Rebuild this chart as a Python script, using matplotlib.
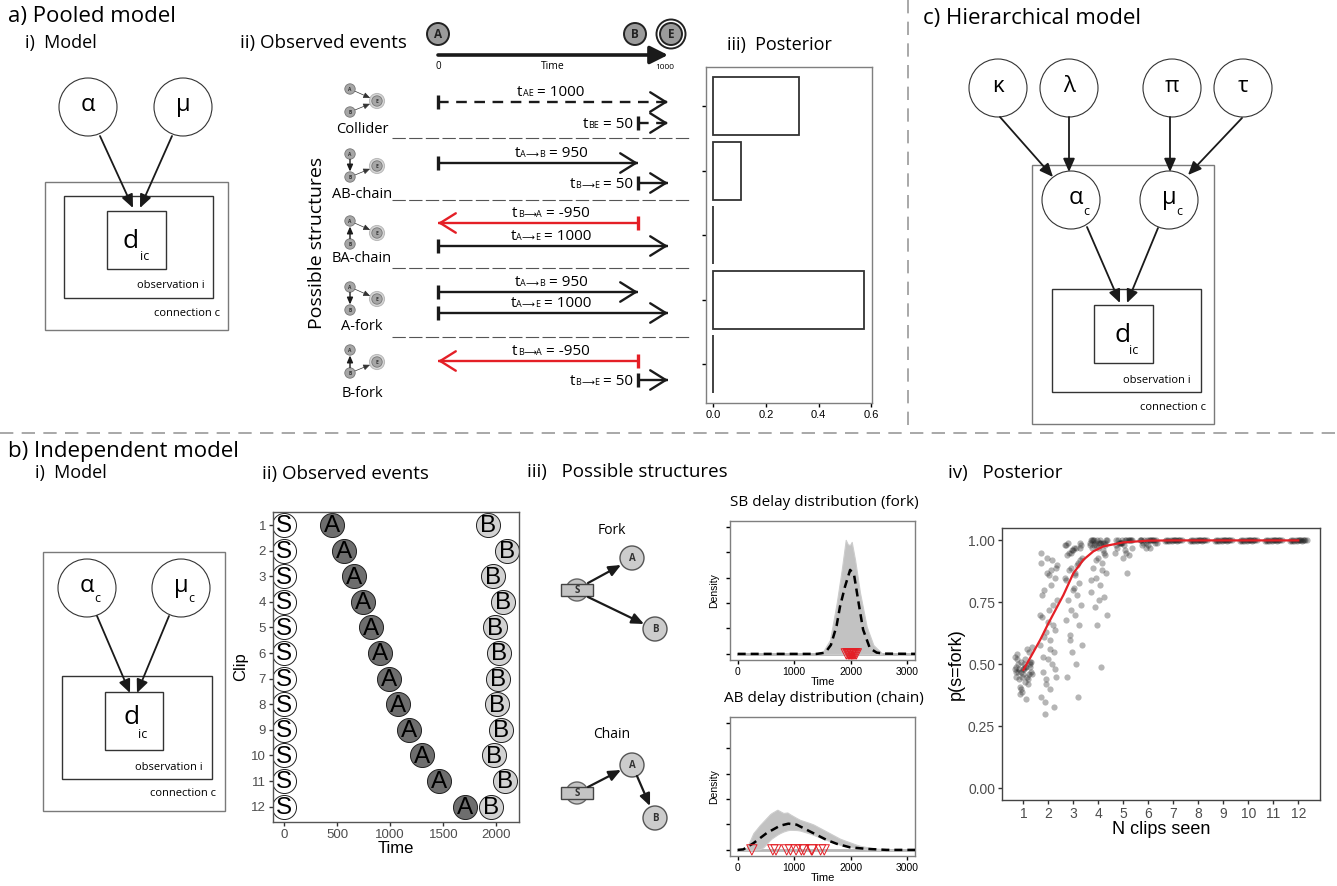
#!/usr/bin/env python3
import numpy as np
import matplotlib
matplotlib.use('Agg')
import matplotlib.pyplot as plt
from matplotlib.patches import Circle, Rectangle

W, H = 1337, 886
SANS = ['Open Sans', 'DejaVu Sans']
ARIAL = ['Liberation Sans', 'DejaVu Sans']
RED = '#e41f26'
INK = '#1a1a1a'

# ---------------- a) pooled model ----------------
event_times = {'A': 0, 'B': 950, 'E': 1000}
structures = ['Collider', 'AB-chain', 'BA-chain', 'A-fork', 'B-fork']
structure_links = [
    [('A', 'E'), ('B', 'E')],
    [('A', 'B'), ('B', 'E')],
    [('B', 'A'), ('A', 'E')],
    [('A', 'B'), ('A', 'E')],
    [('B', 'A'), ('B', 'E')],
]
pooled_posterior = [0.325, 0.105, 0.0, 0.572, 0.0]

# ---------------- b) independent model ----------------
clips = [1, 2, 3, 4, 5, 6, 7, 8, 9, 10, 11, 12]
s_times = [0, 0, 0, 0, 0, 0, 0, 0, 0, 0, 0, 0]
a_times = [455, 568, 659, 741, 819, 901, 986, 1074, 1177, 1300, 1457, 1702]
b_times = [1922, 2100, 1965, 2060, 1991, 2028, 2019, 2009, 2044, 1978, 2079, 1953]

# delay densities (density in units of 1e-3 per ms)
fork_mean_t = [0, 1400, 1550, 1650, 1750, 1810, 1900, 1990, 2060, 2140, 2220, 2340, 2460, 2600, 3200]
fork_mean_d = [0, 0, 0.05, 0.35, 1.1, 1.85, 2.65, 3.3, 3.1, 2.0, 0.95, 0.22, 0.05, 0.01, 0]
fork_band_t = [1487, 1634, 1752, 1841, 1912, 1950, 1988, 2018, 2077, 2165, 2283, 2401, 2549]
fork_band_hi = [0, 0.55, 2.0, 3.3, 4.48, 4.3, 4.28, 4.4, 3.7, 2.4, 1.07, 0.35, 0.03]

chain_mean_t = [0, 100, 277, 513, 749, 897, 1044, 1221, 1398, 1575, 1752, 1988, 2283, 2637, 3200]
chain_mean_d = [0, 0.02, 0.26, 0.66, 0.95, 1.03, 0.99, 0.79, 0.59, 0.39, 0.24, 0.1, 0.04, 0.0, 0]
chain_band_t = [0, 160, 277, 395, 454, 572, 602, 702, 749, 808, 879, 926, 1044, 1103, 1280,
                1339, 1575, 1811, 1870, 2106, 2165, 2401, 2460, 2755]
chain_band_hi = [0, 0.07, 0.66, 0.98, 1.12, 1.4, 1.45, 1.58, 1.52, 1.45, 1.47, 1.4, 1.25, 1.18, 1.05,
                 1.0, 0.72, 0.44, 0.39, 0.2, 0.16, 0.06, 0.05, 0]
chain_band_lo = [0, 0, 0, 0.03, 0.1, 0.39, 0.45, 0.6, 0.66, 0.72, 0.77, 0.79, 0.78, 0.76, 0.64,
                 0.59, 0.39, 0.2, 0.16, 0.07, 0.05, 0, 0, 0]

# posterior p(s=fork) per simulated learner, by number of clips seen
jitter = [-0.31, 0.12, -0.05, 0.27, -0.18, 0.33, 0.02, -0.26, 0.19, -0.11, 0.08, -0.34, 0.24, -0.02,
          0.15, -0.22, 0.30, -0.08, 0.05, -0.29, 0.21, -0.14, 0.34, -0.04, 0.10, -0.24, 0.17, -0.33,
          0.00, 0.28, -0.16, 0.07, -0.20, 0.25, -0.09, 0.13, -0.28, 0.03, 0.31, -0.12]
p_fork_1 = [0.47, 0.49, 0.45, 0.51, 0.48, 0.46, 0.50, 0.52, 0.44, 0.47, 0.49, 0.53, 0.46, 0.48,
            0.45, 0.50, 0.47, 0.51, 0.43, 0.49, 0.55, 0.41, 0.57, 0.39, 0.36, 0.54, 0.42, 0.48,
            0.46, 0.50, 0.44, 0.52, 0.47, 0.49, 0.40, 0.56, 0.45, 0.48, 0.51, 0.38]
p_fork_2 = [0.91, 0.88, 0.93, 0.85, 0.80, 0.76, 0.72, 0.69, 0.66, 0.63, 0.60, 0.58, 0.55, 0.52,
            0.50, 0.47, 0.45, 0.42, 0.40, 0.37, 0.33, 0.30, 0.90, 0.87, 0.82, 0.78, 0.74, 0.70,
            0.67, 0.64, 0.61, 0.56, 0.53, 0.48, 0.44, 0.92, 0.95, 0.86, 0.89, 0.35]
p_fork_3 = [0.98, 0.97, 0.96, 0.99, 0.95, 0.93, 0.97, 0.94, 0.91, 0.89, 0.87, 0.85, 0.83, 0.80,
            0.78, 0.76, 0.74, 0.72, 0.70, 0.68, 0.66, 0.62, 0.58, 0.55, 0.50, 0.45, 0.37, 0.98,
            0.96, 0.92, 0.88, 0.86, 0.99, 0.97, 0.95, 0.90, 0.84, 0.81, 0.98, 0.60]
p_fork_4 = [1.0, 0.99, 1.0, 0.99, 0.98, 1.0, 0.99, 0.97, 0.96, 0.98, 1.0, 0.99, 0.95, 0.93, 0.91,
            0.89, 0.87, 0.85, 0.82, 0.79, 0.77, 0.73, 0.70, 0.66, 0.49, 1.0, 0.99, 0.98, 0.97,
            0.94, 1.0, 0.99, 1.0, 0.98, 0.92, 0.88, 0.84, 0.76, 1.0, 0.99]
p_fork_5 = [1.0, 1.0, 0.99, 1.0, 0.99, 1.0, 0.98, 0.97, 1.0, 0.99, 0.96, 0.95, 0.94, 0.93, 0.87,
            1.0, 1.0, 0.99, 1.0, 0.98, 1.0, 0.99, 0.97, 1.0, 0.95]
p_fork_6 = [1.0, 1.0, 1.0, 0.99, 1.0, 0.99, 1.0, 0.98, 1.0, 0.99, 0.97, 1.0, 1.0, 0.98, 1.0,
            0.99, 1.0, 0.97, 1.0, 1.0]
p_fork_late = [1.0, 1.0, 0.999, 1.0, 0.998, 1.0, 1.0, 0.999, 1.0, 1.0, 1.0, 0.997, 1.0, 1.0,
               0.999, 1.0]
fit_clips = [1, 1.67, 2, 2.6, 3, 3.4, 3.8, 4.2, 5, 6, 7, 8, 9, 10, 11, 12]
fit_p_fork = [0.478, 0.599, 0.666, 0.78, 0.868, 0.922, 0.956, 0.976, 0.992, 0.999, 1, 1, 1, 1, 1, 1]


fig = plt.figure(figsize=(W / 100, H / 100), dpi=100)
ov = fig.add_axes([0, 0, 1, 1])
ov.set_xlim(0, W)
ov.set_ylim(H, 0)
ov.axis('off')
renderer = fig.canvas.get_renderer()


def px_axes(left, top, right, bottom):
    return fig.add_axes([left / W, 1 - bottom / H, (right - left) / W, (bottom - top) / H])


def txt(x, y, s, size, ha='left', va='center', family=SANS, **kw):
    return ov.text(x, y, s, fontsize=size, ha=ha, va=va, family=family, **kw)


def box(x0, y0, x1, y1, ec='#333333', lw=1.0):
    ov.add_patch(Rectangle((x0, y0), x1 - x0, y1 - y0, fc='none', ec=ec, lw=lw))


def link(x0, y0, x1, y1, lw=1.3, scale=10, color=INK):
    ov.annotate('', xy=(x1, y1), xytext=(x0, y0),
                arrowprops=dict(arrowstyle='-|>,head_length=0.8,head_width=0.35', color=color,
                                lw=lw, shrinkA=0, shrinkB=0, mutation_scale=scale))


def param(x, y, sym, sub=None, r=29, size=17, dx=0, sdx=10, sdy=10):
    ov.add_patch(Circle((x, y), r, fc='white', ec='#333333', lw=0.8))
    txt(x + dx, y - 2, sym, size, ha='center')
    if sub:
        txt(x + dx + sdx, y + sdy, sub, 9, ha='center')


def data_box(x0, y0, x1, y1, dx, dy, sx, sy):
    box(x0, y0, x1, y1, ec='#333333')
    txt(dx, dy, 'd', 19, ha='center')
    txt(sx, sy, 'ic', 9, ha='center')


def plates(outer, inner, obs_xy, conn_xy):
    box(*outer, ec='#7a7a7a', lw=1.0)
    box(*inner, ec='#333333', lw=1.0)
    txt(obs_xy[0], obs_xy[1], 'observation i', 8, ha='right')
    txt(conn_xy[0], conn_xy[1], 'connection c', 8, ha='right')


# ---- panel headings and separators ----
txt(8, 16, 'a) Pooled model', 16)
txt(25, 43, 'i)  Model', 13)
txt(240, 43, 'ii) Observed events', 13.5)
txt(727, 45, 'iii)  Posterior', 13)
txt(923, 18, 'c) Hierarchical model', 16)
txt(8, 451, 'b) Independent model', 16)
txt(35, 473, 'i)  Model', 13)
txt(262, 474, 'ii) Observed events', 13.5)
txt(527, 472, 'iii)   Possible structures', 13.5)
txt(948, 473, 'iv)   Posterior', 13.5)

ov.plot([907.5, 907.5], [0, 433], color='#9a9a9a', lw=1.2, ls=(0, (8, 5)))
ov.plot([0, W], [433, 433], color='#9a9a9a', lw=1.2, ls=(0, (8, 5)))

# ---- a-i pooled graphical model ----
plates((45, 182, 228, 330), (64, 196, 213, 298), (205, 286), (220, 313))
param(88, 107, 'α')
param(183, 107, 'μ')
data_box(107, 211, 166, 269, 131, 241, 145, 257)
link(100, 136, 133, 208)
link(172, 136, 140, 208)

# ---- b-i independent graphical model ----
plates((43, 552, 225, 811), (62, 676, 212, 779), (203, 768), (216, 794))
param(87, 588, 'α', 'c', dx=0, sdx=10, sdy=11)
param(181, 588, 'μ', 'c', dx=0, sdx=10, sdy=11)
data_box(105, 692, 163, 750, 132, 718, 143, 735)
link(97, 616, 130, 693)
link(169, 616, 137, 693)

# ---- c hierarchical graphical model ----
plates((1032, 165, 1214, 424), (1052, 289, 1201, 392), (1191, 380), (1206, 407))
for hx, sym in zip([998, 1069, 1172, 1243], ['κ', 'λ', 'π', 'τ']):
    param(hx, 88, sym, size=16)
param(1071, 200, 'α', 'c', dx=5, sdx=10, sdy=11)
param(1169, 200, 'μ', 'c', dx=0, sdx=10, sdy=11)
data_box(1094, 305, 1153, 363, 1123, 336, 1134, 350)
link(1000, 117, 1053, 177)
link(1069, 117, 1069, 172)
link(1170, 117, 1170, 172)
link(1242, 118, 1188, 175)
link(1087, 227, 1120, 303)
link(1158, 228, 1127, 303)

# ---- a-ii observed events and candidate structures ----
# schematic time axis: the last 50 ms are stretched so short delays stay readable
TIME_KNOTS = [0, 950, 1000]
TIME_PIX = [438, 638, 668]


def time_x(t):
    return float(np.interp(t, TIME_KNOTS, TIME_PIX))


def event_node(x, y, label, r, size, ring=False, lw=1.4):
    if ring:
        ov.add_patch(Circle((x, y), r + 3.5, fc='white', ec='#222222', lw=lw))
    ov.add_patch(Circle((x, y), r, fc='#9b9b9b', ec='#222222', lw=lw))
    txt(x, y + 0.5, label, size, ha='center', weight='bold', color='#222222')


t_end = max(event_times.values())
ov.annotate('', xy=(time_x(t_end), 55), xytext=(time_x(0), 55),
            arrowprops=dict(arrowstyle='-|>,head_length=0.9,head_width=0.45', color=INK, lw=2.6,
                            shrinkA=0, shrinkB=0, mutation_scale=12))
for ev, t in event_times.items():
    event_node(time_x(t) + (3 if ev == 'E' else -3 if ev == 'B' else 0), 34, ev, 11, 8.5,
               ring=(ev == 'E'))
txt(time_x(0), 66, '0', 7, ha='center')
txt((time_x(0) + time_x(t_end)) / 2, 66, 'Time', 7.5, ha='center')
txt(time_x(t_end) - 3, 67, str(t_end), 6, ha='center')

row_arrow_y = [[102, 123], [163, 183], [223, 246], [292, 313], [361, 380]]
row_icon_y = [101, 166, 233, 299, 362]
row_label_y = [129, 194, 259, 326, 393]
sep_y = [138, 200, 268, 337]

for y in sep_y:
    ov.plot([392, 690], [y, y], color='#555555', lw=0.8, ls=(0, (12, 3)))

txt(317, 243, 'Possible structures', 14, ha='center', rotation=90)


def delay_label(x, y, frm, to, delay, dashed, ha):
    if dashed:
        pieces = [('t', 11, SANS), (frm + to, 6.5, SANS)]
    else:
        pieces = [('t', 11, SANS), (frm, 6.5, SANS), ('\u27f6', 6.5, ['DejaVu Sans']),
                  (to, 6.5, SANS)]
    pieces.append((' = %d' % delay, 11, SANS))
    arts = [txt(0, y + 5, s, size, va='baseline', family=fam) for s, size, fam in pieces]
    widths = [a.get_window_extent(renderer).width for a in arts]
    start = x - sum(widths) / 2 if ha == 'center' else x - sum(widths)
    for a, w in zip(arts, widths):
        a.set_x(start)
        start += w


def delay_arrow(x0, x1, y, color, dashed):
    ov.plot([x0, x0], [y - 7, y + 7], color=color, lw=2.4, solid_capstyle='butt')
    ls = (0, (4.5, 3.2)) if dashed else '-'
    ov.plot([x0, x1], [y, y], color=color, lw=1.7, ls=ls, solid_capstyle='butt')
    step = 1 if x1 > x0 else -1
    ov.annotate('', xy=(x1, y), xytext=(x1 - step * 3, y),
                arrowprops=dict(arrowstyle='->,head_length=0.8,head_width=0.5', color=color,
                                lw=1.7, shrinkA=0, shrinkB=0, mutation_scale=14))


def structure_icon(cy, links):
    pos = {'A': (350, cy - 12), 'B': (350, cy + 11), 'E': (377, cy)}
    for frm, to in links:
        (x0, y0), (x1, y1) = pos[frm], pos[to]
        if 'E' in (frm, to):
            dx, dy = x1 - x0, y1 - y0
            n = (dx * dx + dy * dy) ** 0.5
            link(x0 + dx / n * 5.5, y0 + dy / n * 5.5, x1 - dx / n * 7.5, y1 - dy / n * 7.5,
                 lw=0.5, scale=5, color='#333333')
        else:
            sgn = 1 if y1 > y0 else -1
            link(x0, y0 + sgn * 5.5, x1, y1 - sgn * 5.5, lw=1.0, scale=5)
    ov.add_patch(Circle(pos['E'], 7.5, fc='#d8d8d8', ec='#bbbbbb', lw=0.8))
    for k, (x, y) in pos.items():
        ov.add_patch(Circle((x, y), 5.2, fc='#a6a6a6', ec='#777777', lw=0.6))
        txt(x, y + 0.3, k, 3.5, ha='center', weight='bold', color='#333333')


for i, name in enumerate(structures):
    structure_icon(row_icon_y[i], structure_links[i])
    txt(362, row_label_y[i], name, 10.5, ha='center')
    dashed = name == 'Collider'
    for (frm, to), y in zip(structure_links[i], row_arrow_y[i]):
        delay = event_times[to] - event_times[frm]
        x0, x1 = time_x(event_times[frm]), time_x(event_times[to])
        color = RED if delay < 0 else INK
        delay_arrow(x0, x1, y, color, dashed)
        if abs(delay) >= 500:
            delay_label(551, y - 11, frm, to, delay, dashed, 'center')
        else:
            delay_label(x0 - 5, y, frm, to, delay, dashed, 'right')


def style_axes(ax, frame='#7f7f7f', tick_color='black', label_color='black', size=8):
    for sp in ax.spines.values():
        sp.set_color(frame)
        sp.set_linewidth(1.0)
    ax.tick_params(direction='out', length=3, width=1, color=tick_color,
                   labelcolor=label_color, labelsize=size, pad=2)
    for lab in ax.get_xticklabels() + ax.get_yticklabels():
        lab.set_family(ARIAL)


# ---- a-iii posterior over structures ----
ax = px_axes(706, 67, 872, 403)
ax.barh(range(1, len(structures) + 1), pooled_posterior, height=0.9, color='white',
        edgecolor='#333333', linewidth=1.3)
ax.set_xlim(-0.028, 0.603)
ax.set_ylim(5.6, 0.39)
ax.set_yticks(range(1, len(structures) + 1))
ax.set_yticklabels([])
ax.set_xticks([0, 0.2, 0.4, 0.6])
ax.set_xticklabels(['0.0', '0.2', '0.4', '0.6'])
style_axes(ax, size=8)

# ---- b-ii observed events per clip ----
ax = px_axes(273, 512, 519, 822)
ax.scatter(s_times, clips, s=300, c='white', edgecolors='#222222', linewidths=0.7, zorder=2)
ax.scatter(a_times, clips, s=300, c='#6e6e6e', edgecolors='#222222', linewidths=0.7, zorder=2)
ax.scatter(b_times, clips, s=300, c='#d2d2d2', edgecolors='#222222', linewidths=0.7, zorder=2)
for times, letter in [(s_times, 'S'), (a_times, 'A'), (b_times, 'B')]:
    for t, c in zip(times, clips):
        ax.text(t, c + 0.05, letter, fontsize=17.5, ha='center', va='center', family=ARIAL,
                color='black', zorder=3)
ax.set_xlim(-104, 2213)
ax.set_ylim(12.6, 0.49)
ax.set_yticks(clips)
ax.set_xticks([0, 500, 1000, 1500, 2000])
style_axes(ax, frame='#555555', tick_color='#333333', label_color='#4d4d4d', size=9.5)
ax.set_xlabel('Time', fontsize=12, family=ARIAL, labelpad=0)
ax.set_ylabel('Clip', fontsize=12, family=ARIAL, labelpad=2)


# ---- b-iii structure sketches ----
def sketch_node(x, y, label):
    ov.add_patch(Circle((x, y), 12, fc='#cccccc', ec='#555555', lw=1.0))
    txt(x, y + 0.5, label, 7, ha='center', weight='bold', color='#333333')


def sketch_source(x, y):
    ov.add_patch(Circle((x, y), 11, fc='#c4c4c4', ec='#666666', lw=1.0))
    ov.add_patch(Rectangle((x - 16, y - 6), 32, 12, fc='#c4c4c4', ec='#444444', lw=1.0))
    txt(x, y + 0.5, 'S', 7, ha='center', weight='bold', color='#333333')


txt(612, 531, 'Fork', 10, ha='center')
sketch_source(577, 590)
sketch_node(632, 558, 'A')
sketch_node(655, 629, 'B')
link(588, 583, 621, 565, lw=1.6, scale=9)
link(588, 597, 644, 624, lw=1.6, scale=9)

txt(612, 735, 'Chain', 10, ha='center')
sketch_source(577, 793)
sketch_node(632, 765, 'A')
sketch_node(655, 818, 'B')
link(588, 787, 621, 770, lw=1.6, scale=9)
link(637, 776, 650, 806, lw=1.6, scale=9)

# ---- b-iii delay distributions ----
sb_delays = [b - s for b, s in zip(b_times, s_times)]
ab_delays = [b - a for b, a in zip(b_times, a_times)]


def density_panel(top, bottom, title, title_y, band_t, band_hi, band_lo, mean_t, mean_d, delays):
    ax = px_axes(730, top, 915, bottom)
    ax.plot([0, 3200], [0, 0], color='#b5b5b5', lw=2.0, zorder=1)
    ax.fill_between(band_t, band_lo, band_hi, color='#c2c2c2', lw=0.8, edgecolor='#cdcdcd', zorder=1)
    ax.plot(mean_t, mean_d, color='black', lw=1.8, dashes=(3.2, 2.0), zorder=3)
    ax.scatter(delays, [0] * len(delays), marker='v', s=55, facecolors='none',
               edgecolors=RED, linewidths=0.7, zorder=4)
    ax.set_xlim(-136, 3138)
    ax.set_ylim(-0.24, 5.22)
    ax.set_yticks([0, 1, 2, 3, 4, 5])
    ax.set_yticklabels([])
    ax.set_xticks([0, 1000, 2000, 3000])
    style_axes(ax, size=7.5)
    ax.set_xlabel('Time', fontsize=8, family=ARIAL, labelpad=0)
    ax.set_ylabel('Density', fontsize=7.5, family=ARIAL, labelpad=3)
    txt(824, title_y, title, 11, ha='center')


density_panel(521, 660, 'SB delay distribution (fork)', 502, fork_band_t, fork_band_hi,
              [0] * len(fork_band_t), fork_mean_t, fork_mean_d, sb_delays)
density_panel(717, 856, 'AB delay distribution (chain)', 699, chain_band_t, chain_band_hi,
              chain_band_lo, chain_mean_t, chain_mean_d, ab_delays)

# ---- b-iv posterior by number of clips ----
ax = px_axes(1002, 528, 1320, 800)
columns = [p_fork_1, p_fork_2, p_fork_3, p_fork_4, p_fork_5, p_fork_6] + [p_fork_late] * 6
for n, ys in zip(clips, columns):
    xs = [n + j for j in jitter[:len(ys)]]
    ax.scatter(xs, ys, s=20, color='#1a1a1a', alpha=0.32, linewidths=0, zorder=2)
ax.plot(fit_clips, fit_p_fork, color=RED, lw=1.6, zorder=3)
ax.set_xlim(0.14, 12.87)
ax.set_ylim(-0.047, 1.05)
ax.set_xticks(clips)
ax.set_yticks([0, 0.25, 0.5, 0.75, 1.0])
ax.set_yticklabels(['0.00', '0.25', '0.50', '0.75', '1.00'])
style_axes(ax, frame='#444444', tick_color='#333333', label_color='#4d4d4d', size=10)
ax.set_xlabel('N clips seen', fontsize=13, family=ARIAL, labelpad=0)
ax.set_ylabel('p(s=fork)', fontsize=13, family=ARIAL, labelpad=2)

fig.savefig('out.png', dpi=100)
